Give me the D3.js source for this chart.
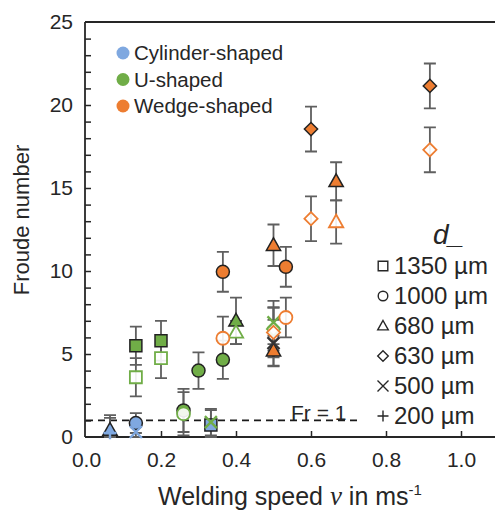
<!DOCTYPE html>
<html lang="en">
<head>
<meta charset="UTF-8">
<title>Froude number vs welding speed</title>
<script src="https://d3js.org/d3.v7.min.js"></script>
<style>
  body { margin: 0; background: #fff; }
  text { font-family: "Liberation Sans", Arial, sans-serif; fill: #262626; }
</style>
</head>
<body>
<div id="chart"></div>
<script>
// keyhole shape categories (colour)
const shapeNames  = ["Cylinder-shaped", "U-shaped", "Wedge-shaped"];
const shapeColors = ["#7fa8e0", "#70ad47", "#ed7d31"];
// wire diameters (marker)
const sizeLabels  = ["1350 µm", "1000 µm", "680 µm", "630 µm", "500 µm", "200 µm"];
const sizeMarkers = ["square", "circle", "triangle", "diamond", "cross", "plus"];

// measured points: shape index, size index, filled?, speed, Froude number, error
const ptShape  = [0, 0, 0, 0, 0,   1, 1, 1, 1, 1, 1, 1, 1, 1, 1, 1, 1, 1,   2, 2, 2, 2, 2, 2, 2, 2, 2, 2, 2, 2, 2, 2];
const ptSize   = [2, 5, 1, 4, 0,   0, 0, 0, 0, 1, 1, 1, 1, 2, 2, 4, 4, 3,   1, 1, 2, 1, 1, 3, 3, 2, 2, 3, 3, 3, 2, 4];
const ptFilled = [1, 0, 1, 0, 1,   1, 0, 1, 0, 1, 0, 1, 1, 1, 0, 0, 0, 0,   1, 0, 1, 1, 0, 1, 0, 1, 0, 1, 0, 0, 1, 1];
const ptSpeed  = [0.064, 0.064, 0.133, 0.133, 0.333,
                  0.133, 0.133, 0.2, 0.2, 0.26, 0.26, 0.30, 0.365, 0.40, 0.40, 0.333, 0.50, 0.50,
                  0.365, 0.365, 0.50, 0.533, 0.533, 0.60, 0.60, 0.667, 0.667, 0.917, 0.917, 0.50, 0.50, 0.50];
const ptFroude = [0.42, 0.25, 0.84, 0.3, 0.72,
                  5.5, 3.6, 5.8, 4.75, 1.6, 1.4, 4.0, 4.65, 7.0, 6.3, 0.9, 6.9, 6.5,
                  9.95, 5.95, 11.55, 10.25, 7.2, 18.55, 13.15, 15.4, 12.95, 21.15, 17.3, 6.3, 5.2, 5.65];
const ptErr    = [0.9, 0.9, 0.6, 0.5, 0.9,
                  1.15, 1.15, 1.2, 1.2, 1.3, 1.3, 1.1, 1.15, 1.4, 0.7, 0.8, 1.3, 1.3,
                  1.2, 1.3, 1.25, 1.2, 1.2, 1.35, 1.35, 1.15, 1.3, 1.35, 1.35, 1.5, 0.9, 1.4];

const xTicks = [0, 0.2, 0.4, 0.6, 0.8, 1.0];
const yTicks = [0, 5, 10, 15, 20, 25];
const yMinor = d3.range(0, 26, 1);
const froudeLimit = 1;

const width = 495, height = 514;
const svg = d3.select("#chart").append("svg")
    .attr("width", width)
    .attr("height", height);

const x = d3.scaleLinear().domain([0, 1.1]).range([86, 86 + 412.5]);
const y = d3.scaleLinear().domain([0, 25]).range([437, 22]);

// marker outlines
function markerPath(type, r) {
    switch (type) {
        case "square":   return `M${-r},${-r}H${r}V${r}H${-r}Z`;
        case "circle":   return `M${r},0A${r},${r} 0 1,1 ${-r},0A${r},${r} 0 1,1 ${r},0Z`;
        case "triangle": return `M0,${-r * 1.15}L${r * 1.1},${r * 0.8}H${-r * 1.1}Z`;
        case "diamond":  return `M0,${-r * 1.1}L${r * 1.1},0L0,${r * 1.1}L${-r * 1.1},0Z`;
        case "cross":    return `M${-r},${-r}L${r},${r}M${r},${-r}L${-r},${r}`;
        case "plus":     return `M${-r},0H${r}M0,${-r}V${r}`;
    }
}
const markerR = { square: 6, circle: 6.5, triangle: 6.5, diamond: 6, cross: 6, plus: 6.5 };

// axes frame
svg.append("line").attr("x1", 85).attr("x2", width).attr("y1", y(0)).attr("y2", y(0))
    .attr("stroke", "#262626").attr("stroke-width", 1.8);
svg.append("line").attr("x1", 85).attr("x2", width).attr("y1", y(25)).attr("y2", y(25))
    .attr("stroke", "#262626").attr("stroke-width", 1.8);
svg.append("line").attr("x1", 85).attr("x2", 85).attr("y1", y(0)).attr("y2", y(25))
    .attr("stroke", "#262626").attr("stroke-width", 1.8);

// inward ticks
const xAxis = d3.axisBottom(x).tickValues(xTicks).tickFormat(d3.format(".1f")).tickSizeInner(-6).tickSizeOuter(0).tickPadding(15);
const gx = svg.append("g").attr("transform", `translate(0,${y(0)})`).call(xAxis);
gx.select(".domain").remove();
gx.selectAll(".tick line").attr("stroke", "#262626").attr("stroke-width", 1.5)
    .filter(d => d === 0).remove();
gx.selectAll("text").attr("font-size", 21).attr("font-family", "Liberation Sans, Arial, sans-serif").attr("fill", "#404040");

const yAxis = d3.axisLeft(y).tickValues(yMinor).tickFormat(d => yTicks.includes(d) ? d : "").tickSizeInner(-6).tickSizeOuter(0).tickPadding(12);
const gy = svg.append("g").attr("transform", "translate(85,0)").call(yAxis);
gy.select(".domain").remove();
gy.selectAll(".tick line").attr("stroke", "#262626").attr("stroke-width", 1.5)
    .filter(d => d === 0 || d === 25).remove();
gy.selectAll("text").attr("font-size", 21).attr("font-family", "Liberation Sans, Arial, sans-serif").attr("fill", "#404040");

// axis titles
svg.append("text").attr("transform", "translate(29,220) rotate(-90)")
    .attr("text-anchor", "middle").attr("font-size", 22).attr("fill", "#404040")
    .text("Froude number");
const xt = svg.append("text").attr("x", 290).attr("y", 505).attr("text-anchor", "middle")
    .attr("font-size", 25).attr("fill", "#404040");
xt.append("tspan").text("Welding speed ");
xt.append("tspan").attr("font-family", "Liberation Serif, serif").attr("font-style", "italic").attr("font-size", 27).text("v");
xt.append("tspan").text(" in ms");
xt.append("tspan").attr("font-size", 15).attr("dy", -10).text("-1");

// Fr = 1 reference line
svg.append("line").attr("x1", 86).attr("x2", 360).attr("y1", y(froudeLimit)).attr("y2", y(froudeLimit))
    .attr("stroke", "#1a1a1a").attr("stroke-width", 1.6).attr("stroke-dasharray", "7,5");
svg.append("text").attr("x", 291).attr("y", 420).attr("font-size", 21).attr("fill", "#262626").text("Fr = 1");

// points
const pts = d3.range(ptSpeed.length).map(i => ({
    shape: ptShape[i], marker: sizeMarkers[ptSize[i]], filled: ptFilled[i],
    v: ptSpeed[i], fr: ptFroude[i], err: ptErr[i]
}));

const gErr = svg.append("g").attr("stroke", "#5f5f5f").attr("stroke-width", 1.8).attr("fill", "none");
pts.forEach(d => {
    const cx = x(d.v), y1 = y(Math.max(0, d.fr - d.err)), y2 = y(d.fr + d.err);
    gErr.append("path").attr("d", `M${cx},${y1}V${y2}M${cx - 6},${y1}H${cx + 6}M${cx - 6},${y2}H${cx + 6}`);
});

svg.append("g").selectAll("path.pt")
    .data(pts)
    .join("path")
    .attr("class", "pt")
    .attr("transform", d => `translate(${x(d.v)},${y(d.fr)})`)
    .attr("d", d => markerPath(d.marker, markerR[d.marker]))
    .attr("fill", d => (d.marker === "cross" || d.marker === "plus") ? "none" : (d.filled ? shapeColors[d.shape] : "#fff"))
    .attr("fill-opacity", d => d.filled ? 1 : 0.9)
    .attr("stroke", d => {
        if (d.marker === "cross" || d.marker === "plus") return d.filled ? "#333" : shapeColors[d.shape];
        return d.filled ? "#222" : shapeColors[d.shape];
    })
    .attr("stroke-width", d => (d.marker === "cross" || d.marker === "plus") ? 2.4 : (d.filled ? 1.5 : 1.8));

// colour legend
const lg = svg.append("g");
shapeNames.forEach((name, i) => {
    const yy = 53 + i * 26.5;
    lg.append("circle").attr("cx", 123).attr("cy", yy).attr("r", 6.5).attr("fill", shapeColors[i]);
    lg.append("text").attr("x", 134).attr("y", yy + 7).attr("font-size", 20.5).attr("fill", "#262626").text(name);
});

// marker legend
svg.append("text").attr("x", 433).attr("y", 244).attr("font-family", "Liberation Serif, serif")
    .attr("font-style", "italic").attr("font-size", 28).attr("fill", "#262626").text("d_");
sizeLabels.forEach((label, i) => {
    const yy = 266 + i * 30;
    const m = sizeMarkers[i];
    svg.append("path").attr("transform", `translate(383,${yy})`)
        .attr("d", markerPath(m, m === "plus" || m === "cross" ? 5.5 : 4.8))
        .attr("fill", "none").attr("stroke", "#262626").attr("stroke-width", 1.4);
    svg.append("text").attr("x", 394).attr("y", yy + 8).attr("font-size", 24).attr("fill", "#262626").text(label);
});
</script>
</body>
</html>
